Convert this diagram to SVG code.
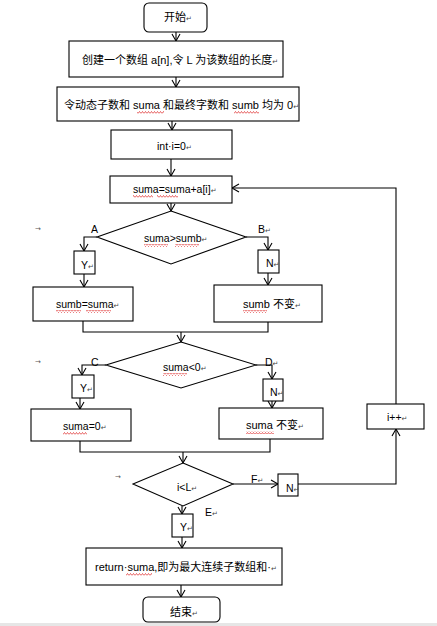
<svg xmlns="http://www.w3.org/2000/svg" width="437" height="626" viewBox="0 0 437 626">
<style>
.b{fill:#fff;stroke:#000;stroke-width:1.1}
.c{fill:none;stroke:#000;stroke-width:1.1}
text{font-family:"Liberation Sans","Noto Sans CJK SC",sans-serif;font-size:10.5px;fill:#000}
.k{font-size:11px}
.m{font-family:"DejaVu Sans",sans-serif;font-size:7px;fill:#444}
.t{font-family:"DejaVu Sans",sans-serif;font-size:7px;fill:#555}
.sq{fill:url(#sq)}
</style>
<defs>
<marker id="ar" markerWidth="10" markerHeight="10" refX="8" refY="5" orient="auto" markerUnits="userSpaceOnUse">
<path d="M1,1 L8,5 L1,9" fill="none" stroke="#000" stroke-width="1.1"/>
</marker>
<pattern id="sq" patternUnits="userSpaceOnUse" width="3" height="3">
<path d="M0,2.5 L1.5,0.5 L3,2.5" fill="none" stroke="#d22" stroke-width="0.7"/>
</pattern>
</defs>
<rect x="0" y="623" width="437" height="3" fill="#e6e6e6"/>
<g id="connectors">
<line class="c" x1="176" y1="32" x2="176" y2="41" marker-end="url(#ar)"/>
<line class="c" x1="176" y1="77" x2="176" y2="87" marker-end="url(#ar)"/>
<line class="c" x1="172" y1="121" x2="172" y2="130" marker-end="url(#ar)"/>
<line class="c" x1="171" y1="159" x2="171" y2="176" marker-end="url(#ar)"/>
<line class="c" x1="171" y1="203" x2="171" y2="211" marker-end="url(#ar)"/>
<polyline class="c" points="97,237 84,237 84,251" marker-end="url(#ar)"/>
<line class="c" x1="84" y1="274" x2="84" y2="287" marker-end="url(#ar)"/>
<polyline class="c" points="246,237 268,237 268,250" marker-end="url(#ar)"/>
<line class="c" x1="268" y1="273" x2="268" y2="285" marker-end="url(#ar)"/>
<polyline class="c" points="83,321 83,332 268,332 268,322"/>
<line class="c" x1="181" y1="332" x2="181" y2="342" marker-end="url(#ar)"/>
<polyline class="c" points="106,365 82,365 82,375" marker-end="url(#ar)"/>
<line class="c" x1="80" y1="398" x2="80" y2="409" marker-end="url(#ar)"/>
<polyline class="c" points="256,365 272,365 272,379" marker-end="url(#ar)"/>
<line class="c" x1="272" y1="401" x2="272" y2="408" marker-end="url(#ar)"/>
<polyline class="c" points="80,441 80,452 270,452 270,439"/>
<line class="c" x1="183" y1="452" x2="183" y2="463" marker-end="url(#ar)"/>
<line class="c" x1="233" y1="484" x2="278" y2="484" marker-end="url(#ar)"/>
<polyline class="c" points="298,484 396,484 396,429" marker-end="url(#ar)"/>
<polyline class="c" points="396,404 396,188 232,188" marker-end="url(#ar)"/>
<line class="c" x1="182" y1="506" x2="182" y2="514" marker-end="url(#ar)"/>
<line class="c" x1="182" y1="537" x2="182" y2="548" marker-end="url(#ar)"/>
<line class="c" x1="181" y1="585" x2="181" y2="597" marker-end="url(#ar)"/>
</g>
<g id="start"><rect class="b" x="144" y="3" width="63" height="29" rx="5"/><text class="k" x="164" y="21">开始<tspan class="m">↵</tspan></text></g>
<g id="create"><rect class="b" x="69" y="41" width="214" height="36"/><text class="k" x="82" y="64">创建一个数组 a[n],令 L 为该数组的长度<tspan class="m">↵</tspan></text></g>
<g id="init"><rect class="b" x="57" y="87" width="242" height="34"/><text class="k" x="64" y="109">令动态子数和 suma 和最终字数和 sumb 均为 0<tspan class="m">↵</tspan></text>
<rect class="sq" x="137" y="111" width="27" height="3"/><rect class="sq" x="234" y="111" width="25" height="3"/></g>
<g id="inti"><rect class="b" x="111" y="130" width="121" height="29"/><text x="157" y="150">int·i=0<tspan class="m">↵</tspan></text></g>
<g id="sum"><rect class="b" x="110" y="176" width="122" height="27"/><text x="133" y="193">suma=suma+a[i]<tspan class="m">↵</tspan></text>
<rect class="sq" x="133" y="195" width="20" height="3"/><rect class="sq" x="157" y="195" width="21" height="3"/></g>
<g id="dec1"><polygon class="b" points="171,211 246,237 171,264 97,237"/><text x="144" y="242">suma&gt;sumb<tspan class="m">↵</tspan></text>
<rect class="sq" x="144" y="244" width="24" height="3"/><rect class="sq" x="175" y="244" width="24" height="3"/>
<text x="91" y="233">A</text><text x="258" y="233">B<tspan class="m">↵</tspan></text><text class="t" x="35" y="231">→</text></g>
<g id="y1"><rect class="b" x="74" y="251" width="21" height="23"/><text x="81" y="269">Y<tspan class="m">↵</tspan></text></g>
<g id="n1"><rect class="b" x="258" y="250" width="21" height="23"/><text x="266" y="267">N<tspan class="m">↵</tspan></text></g>
<g id="setb"><rect class="b" x="33" y="287" width="100" height="34"/><text x="56" y="308">sumb=suma<tspan class="m">↵</tspan></text>
<rect class="sq" x="56" y="310" width="25" height="3"/><rect class="sq" x="86" y="310" width="25" height="3"/></g>
<g id="keepb"><rect class="b" x="214" y="285" width="108" height="37"/><text class="k" x="243" y="308">sumb 不变<tspan class="m">↵</tspan></text>
<rect class="sq" x="243" y="310" width="24" height="3"/></g>
<g id="dec2"><polygon class="b" points="181,342 256,365 181,388 106,365"/><text x="163" y="371">suma&lt;0<tspan class="m">↵</tspan></text>
<rect class="sq" x="163" y="373" width="24" height="3"/>
<text x="91" y="366">C</text><text x="265" y="366">D<tspan class="m">↵</tspan></text><text class="t" x="35" y="364">→</text></g>
<g id="y2"><rect class="b" x="72" y="375" width="22" height="23"/><text x="80" y="392">Y<tspan class="m">↵</tspan></text></g>
<g id="n2"><rect class="b" x="263" y="379" width="20" height="22"/><text x="270" y="396">N<tspan class="m">↵</tspan></text></g>
<g id="zero"><rect class="b" x="31" y="409" width="100" height="32"/><text x="63" y="430">suma=0<tspan class="m">↵</tspan></text>
<rect class="sq" x="63" y="432" width="24" height="3"/></g>
<g id="keepa"><rect class="b" x="219" y="408" width="104" height="31"/><text class="k" x="246" y="429">suma 不变<tspan class="m">↵</tspan></text>
<rect class="sq" x="246" y="431" width="28" height="3"/></g>
<g id="inc"><rect class="b" x="367" y="404" width="57" height="25"/><text x="387" y="421">i++<tspan class="m">↵</tspan></text></g>
<g id="dec3"><polygon class="b" points="183,463 233,484 183,506 133,484"/><text x="177" y="491">i&lt;L<tspan class="m">↵</tspan></text>
<text x="251" y="483">F<tspan class="m">↵</tspan></text><text x="205" y="516">E<tspan class="m">↵</tspan></text><text class="t" x="115" y="479">→</text></g>
<g id="n3"><rect class="b" x="278" y="474" width="20" height="22"/><text x="286" y="492">N<tspan class="m">↵</tspan></text></g>
<g id="y3"><rect class="b" x="172" y="514" width="21" height="23"/><text x="180" y="531">Y<tspan class="m">↵</tspan></text></g>
<g id="ret"><rect class="b" x="86" y="548" width="196" height="37"/><text class="k" x="95" y="571">return·suma,即为最大连续子数组和·<tspan class="m">↵</tspan></text>
<rect class="sq" x="126" y="573" width="26" height="3"/></g>
<g id="end"><rect class="b" x="143" y="597" width="77" height="25" rx="5"/><text class="k" x="170" y="616">结束<tspan class="m">↵</tspan></text></g>
</svg>
